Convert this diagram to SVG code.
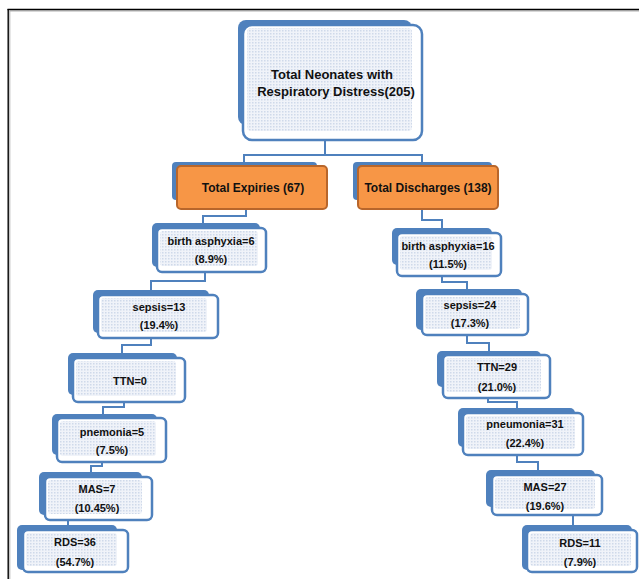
<svg xmlns="http://www.w3.org/2000/svg" width="639" height="579" viewBox="0 0 639 579">
<defs>
<pattern id="dots" width="3" height="3" patternUnits="userSpaceOnUse">
<rect width="3" height="3" fill="#F0F3F9"/>
<rect width="1.5" height="1.5" fill="#CFD9EA"/>
</pattern>
<style>
.back{fill:#4F81BD;}
.front{fill:#FFFFFF;stroke:#4F81BD;stroke-width:2.5;}
.inner{fill:url(#dots);}
.ofront{fill:#F79646;stroke:#B8662B;stroke-width:2;}
.conn{fill:none;stroke:#4F81BD;stroke-width:2;}
text{font-family:"Liberation Sans",Arial,sans-serif;font-weight:bold;fill:#111111;text-anchor:middle;}
.t11{font-size:11px;}
.t12{font-size:12px;}
.t13{font-size:13px;}
</style>
</defs>
<rect width="639" height="579" fill="#FFFFFF"/>
<g id="frame">
<line x1="9.5" y1="11" x2="639" y2="11" stroke="#B0B0B0" stroke-width="1.2"/>
<line x1="9.8" y1="11" x2="9.8" y2="579" stroke="#B0B0B0" stroke-width="1"/>
<line x1="7.5" y1="9.5" x2="639" y2="9.5" stroke="#000000" stroke-width="1.4"/>
<line x1="8.2" y1="9" x2="8.2" y2="579" stroke="#000000" stroke-width="1.4"/>
</g>
<g id="connectors">
<path class="conn" d="M325,140 V155"/>
<path class="conn" d="M244,162 V155 H422 V162"/>
<path class="conn" d="M246,209 V216 H203 V223"/>
<path class="conn" d="M205,272 V281 H151 V290"/>
<path class="conn" d="M151,338 V345 H122 V353"/>
<path class="conn" d="M124,402 V407 H103 V414"/>
<path class="conn" d="M102,462 V466 H91 V472"/>
<path class="conn" d="M68,520 V525"/>
<path class="conn" d="M422,209 V220 H442 V228"/>
<path class="conn" d="M442,276 V282 H467 V289"/>
<path class="conn" d="M467,335 V343 H489 V351"/>
<path class="conn" d="M488,398 V402 H517 V408"/>
<path class="conn" d="M517,455 V462 H538 V470"/>
<path class="conn" d="M573,515 V525"/>
</g>
<g id="root">
<rect class="back" x="238" y="20" width="174" height="105" rx="8"/>
<rect class="front" x="243" y="25" width="179" height="115" rx="9"/>
<rect class="inner" x="247" y="28" width="165" height="103" rx="4"/>
<text class="t13" x="332" y="79">Total Neonates with</text>
<text class="t13" x="336" y="96">Respiratory Distress(205)</text>
</g>
<g id="expiries">
<rect class="back" x="172" y="162" width="145" height="38" rx="4"/>
<rect class="ofront" x="177" y="166" width="150" height="43" rx="4"/>
<text class="t12" x="253" y="192">Total Expiries (67)</text>
</g>
<g id="discharges">
<rect class="back" x="353" y="162" width="139" height="38" rx="4"/>
<rect class="ofront" x="358" y="166" width="140" height="43" rx="4"/>
<text class="t12" x="428" y="192">Total Discharges (138)</text>
</g>
<g id="ba6">
<rect class="back" x="152" y="223" width="108" height="44" rx="5"/>
<rect class="front" x="157" y="228" width="109" height="44" rx="5"/>
<rect class="inner" x="160" y="231" width="98" height="35" rx="3"/>
<text class="t11" x="211" y="245">birth asphyxia=6</text>
<text class="t11" x="211" y="263">(8.9%)</text>
</g>
<g id="sep13">
<rect class="back" x="93" y="290" width="116" height="43" rx="5"/>
<rect class="front" x="98" y="295" width="120" height="43" rx="5"/>
<rect class="inner" x="101" y="298" width="106" height="34" rx="3"/>
<text class="t11" x="159" y="311">sepsis=13</text>
<text class="t11" x="159" y="329">(19.4%)</text>
</g>
<g id="ttn0">
<rect class="back" x="68" y="353" width="109" height="42" rx="5"/>
<rect class="front" x="73" y="358" width="112" height="44" rx="5"/>
<rect class="inner" x="76" y="361" width="100" height="35" rx="3"/>
<text class="t11" x="130" y="385">TTN=0</text>
</g>
<g id="pnem5">
<rect class="back" x="52" y="414" width="105" height="41" rx="5"/>
<rect class="front" x="57" y="418" width="109" height="44" rx="5"/>
<rect class="inner" x="60" y="421" width="96" height="35" rx="3"/>
<text class="t11" x="112" y="436">pnemonia=5</text>
<text class="t11" x="112" y="454">(7.5%)</text>
</g>
<g id="mas7">
<rect class="back" x="39" y="472" width="103" height="43" rx="5"/>
<rect class="front" x="45" y="477" width="107" height="43" rx="5"/>
<rect class="inner" x="48" y="480" width="94" height="34" rx="3"/>
<text class="t11" x="97" y="493">MAS=7</text>
<text class="t11" x="97" y="512">(10.45%)</text>
</g>
<g id="rds36">
<rect class="back" x="17" y="525" width="100" height="45" rx="5"/>
<rect class="front" x="23" y="530" width="105" height="42" rx="5"/>
<rect class="inner" x="26" y="533" width="91" height="33" rx="3"/>
<text class="t11" x="75" y="546">RDS=36</text>
<text class="t11" x="75" y="566">(54.7%)</text>
</g>
<g id="ba16">
<rect class="back" x="392" y="228" width="100" height="37" rx="5"/>
<rect class="front" x="397" y="233" width="104" height="43" rx="5"/>
<rect class="inner" x="400" y="236" width="92" height="34" rx="3"/>
<text class="t11" x="448" y="250">birth asphyxia=16</text>
<text class="t11" x="448" y="268">(11.5%)</text>
</g>
<g id="sep24">
<rect class="back" x="416" y="289" width="106" height="41" rx="5"/>
<rect class="front" x="422" y="294" width="106" height="41" rx="5"/>
<rect class="inner" x="425" y="297" width="95" height="32" rx="3"/>
<text class="t11" x="470" y="309">sepsis=24</text>
<text class="t11" x="470" y="327">(17.3%)</text>
</g>
<g id="ttn29">
<rect class="back" x="437" y="351" width="104" height="36" rx="5"/>
<rect class="front" x="443" y="355" width="107" height="43" rx="5"/>
<rect class="inner" x="446" y="358" width="95" height="34" rx="3"/>
<text class="t11" x="497" y="371">TTN=29</text>
<text class="t11" x="497" y="391">(21.0%)</text>
</g>
<g id="pneu31">
<rect class="back" x="458" y="408" width="117" height="39" rx="5"/>
<rect class="front" x="463" y="413" width="120" height="42" rx="5"/>
<rect class="inner" x="466" y="416" width="109" height="33" rx="3"/>
<text class="t11" x="525" y="428">pneumonia=31</text>
<text class="t11" x="525" y="447">(22.4%)</text>
</g>
<g id="mas27">
<rect class="back" x="486" y="470" width="109" height="37" rx="5"/>
<rect class="front" x="492" y="475" width="110" height="40" rx="5"/>
<rect class="inner" x="495" y="478" width="100" height="31" rx="3"/>
<text class="t11" x="545" y="491">MAS=27</text>
<text class="t11" x="545" y="510">(19.6%)</text>
</g>
<g id="rds11">
<rect class="back" x="522" y="525" width="110" height="45" rx="5"/>
<rect class="front" x="527" y="530" width="110" height="42" rx="5"/>
<rect class="inner" x="530" y="533" width="101" height="33" rx="3"/>
<text class="t11" x="580" y="547">RDS=11</text>
<text class="t11" x="580" y="566">(7.9%)</text>
</g>
</svg>
